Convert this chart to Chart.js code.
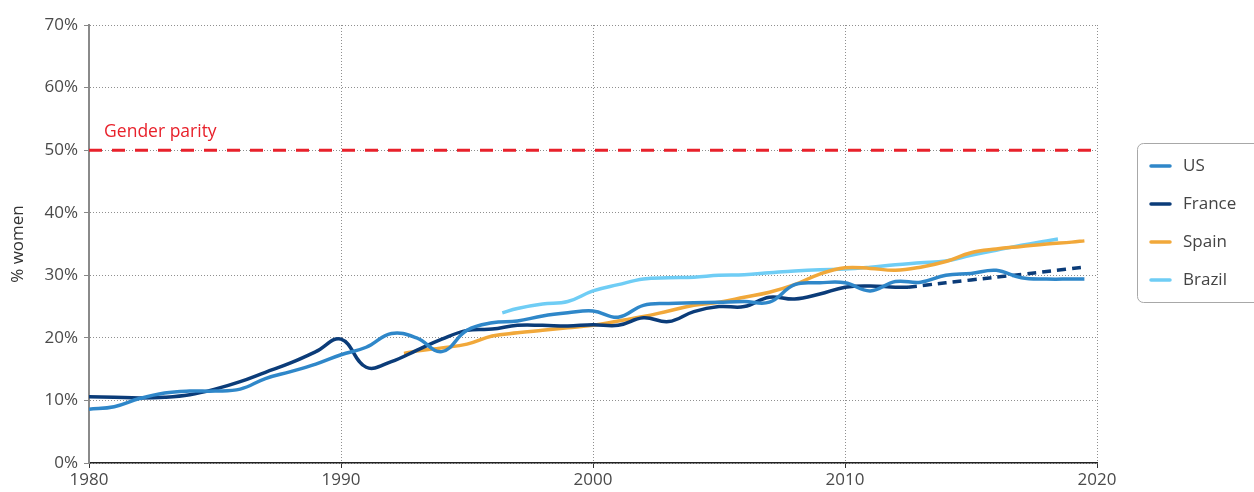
<!DOCTYPE html>
<html>
<head>
<meta charset="utf-8">
<script src="https://cdn.jsdelivr.net/npm/chart.js@4/dist/chart.umd.min.js"></script>
<style>
  html, body { margin: 0; padding: 0; background: #fff; }
  #wrap { width: 1254px; height: 492px; }
</style>
</head>
<body>
<div id="wrap"><canvas id="womenChart" width="1254" height="492"></canvas></div>
<script>
// Data (share of women, %)
const usYears = [1980, 1981, 1982, 1983, 1984, 1985, 1986, 1987, 1988, 1989, 1990, 1991, 1992, 1993, 1994, 1995, 1996, 1997, 1998, 1999, 2000, 2001, 2002, 2003, 2004, 2005, 2006, 2007, 2008, 2009, 2010, 2011, 2012, 2013, 2014, 2015, 2016, 2017, 2018, 2019, 2019.5];
const usValues = [8.6, 9.0, 10.3, 11.2, 11.5, 11.5, 11.8, 13.5, 14.6, 15.8, 17.3, 18.5, 20.7, 20.0, 17.8, 21.2, 22.4, 22.7, 23.5, 24.0, 24.3, 23.3, 25.2, 25.5, 25.6, 25.7, 25.8, 25.7, 28.5, 28.8, 28.8, 27.5, 29.0, 28.9, 30.0, 30.3, 30.8, 29.6, 29.4, 29.4, 29.4];

const franceYears = [1980, 1981, 1982, 1983, 1984, 1985, 1986, 1987, 1988, 1989, 1990, 1991, 1992, 1993, 1994, 1995, 1996, 1997, 1998, 1999, 2000, 2001, 2002, 2003, 2004, 2005, 2006, 2007, 2008, 2009, 2010, 2011, 2012, 2012.5];
const franceValues = [10.6, 10.5, 10.4, 10.5, 10.9, 11.8, 13.0, 14.5, 16.0, 17.8, 19.8, 15.3, 16.2, 18.0, 19.8, 21.2, 21.4, 22.0, 22.0, 21.9, 22.1, 22.0, 23.2, 22.6, 24.2, 25.0, 25.0, 26.5, 26.2, 27.0, 28.1, 28.3, 28.1, 28.1];

const franceProjYears = [2012.5, 2014, 2016, 2018, 2019.5];
const franceProjValues = [28.1, 28.8, 29.7, 30.6, 31.3];

const spainYears = [1992.5, 1993, 1994, 1995, 1996, 1997, 1998, 1999, 2000, 2001, 2002, 2003, 2004, 2005, 2006, 2007, 2008, 2009, 2010, 2011, 2012, 2013, 2014, 2015, 2016, 2017, 2018, 2019, 2019.5];
const spainValues = [17.5, 17.9, 18.4, 19.0, 20.3, 20.8, 21.2, 21.6, 22.0, 22.7, 23.4, 24.3, 25.2, 25.7, 26.5, 27.3, 28.5, 30.2, 31.2, 31.1, 30.8, 31.3, 32.2, 33.6, 34.2, 34.6, 35.0, 35.3, 35.5];

const brazilYears = [1996.4, 1997, 1998, 1999, 2000, 2001, 2002, 2003, 2004, 2005, 2006, 2007, 2008, 2009, 2010, 2011, 2012, 2013, 2014, 2015, 2016, 2017, 2018, 2018.45];
const brazilValues = [24.0, 24.7, 25.4, 25.8, 27.5, 28.5, 29.4, 29.6, 29.7, 30.0, 30.1, 30.4, 30.7, 30.9, 31.0, 31.3, 31.7, 32.0, 32.3, 33.2, 34.0, 34.8, 35.5, 35.8];

const parityYears = [1980, 2020];
const parityValues = [50, 50];

const seriesColors = {
    us: '#2f87c9',
    france: '#0b3c79',
    spain: '#f1a83a',
    brazil: '#6fcdf5',
    parity: '#e8212b'
};

const FONT = '"Open Sans", "DejaVu Sans", sans-serif';

// Function to zip years and values into points
function toPoints(years, values) {
    return years.map((yr, i) => ({ x: yr, y: values[i] }));
}

// Labels and legend box drawn on top of the chart
const extrasPlugin = {
    id: 'extras',
    afterDatasetsDraw(chart) {
        const ctx = chart.ctx;
        const xs = chart.scales.x;
        const ys = chart.scales.y;

        // Gender parity label
        ctx.save();
        ctx.font = '500 17.5px ' + FONT;
        ctx.fillStyle = seriesColors.parity;
        ctx.textBaseline = 'middle';
        ctx.fillText('Gender parity', xs.getPixelForValue(1980.6), ys.getPixelForValue(52.9));
        ctx.restore();

        // Legend
        const items = chart.data.datasets.filter(d => !d.hideInLegend);
        const left = 1137, top = 143, width = 140, height = 159;
        ctx.save();
        ctx.strokeStyle = '#a8a8a8';
        ctx.lineWidth = 1;
        ctx.beginPath();
        ctx.roundRect(left + 0.5, top + 0.5, width, height, 6);
        ctx.stroke();
        ctx.font = '17px ' + FONT;
        ctx.textBaseline = 'middle';
        items.forEach((d, i) => {
            const cy = top + 23 + i * 38;
            ctx.strokeStyle = d.borderColor;
            ctx.lineWidth = 3.5;
            ctx.lineCap = 'round';
            ctx.beginPath();
            ctx.moveTo(1151, cy);
            ctx.lineTo(1170, cy);
            ctx.stroke();
            ctx.fillStyle = '#444';
            ctx.fillText(d.label, 1183, cy);
        });
        ctx.restore();
    }
};

function lineSet(label, color, years, values, extra) {
    return Object.assign({
        label: label,
        data: toPoints(years, values),
        borderColor: color,
        backgroundColor: color,
        borderWidth: 3.5,
        pointRadius: 0,
        tension: 0.4,
        fill: false
    }, extra || {});
}

document.addEventListener('DOMContentLoaded', () => {
    const ctx = document.getElementById('womenChart').getContext('2d');

    new Chart(ctx, {
        type: 'line',
        data: {
            datasets: [
                lineSet('US', seriesColors.us, usYears, usValues),
                lineSet('France', seriesColors.france, franceYears, franceValues),
                lineSet('Spain', seriesColors.spain, spainYears, spainValues),
                lineSet('Brazil', seriesColors.brazil, brazilYears, brazilValues),
                lineSet('France (trend)', seriesColors.france, franceProjYears, franceProjValues, {
                    borderDash: [9, 6], tension: 0.2, hideInLegend: true
                }),
                lineSet('Gender parity', seriesColors.parity, parityYears, parityValues, {
                    borderDash: [13, 10], borderWidth: 3, tension: 0, hideInLegend: true
                })
            ]
        },
        options: {
            responsive: false,
            animation: false,
            layout: { padding: { top: 25, right: 157, left: 0, bottom: 0 } },
            plugins: {
                legend: { display: false },
                tooltip: { enabled: false }
            },
            scales: {
                x: {
                    type: 'linear',
                    min: 1980,
                    max: 2020,
                    afterFit: scale => { scale.height = 29; },
                    ticks: {
                        stepSize: 10,
                        color: '#4a4a4a',
                        font: { family: FONT, size: 17 },
                        padding: 2,
                        maxRotation: 0,
                        callback: v => String(v)
                    },
                    grid: {
                        color: '#8f8f8f',
                        lineWidth: 1,
                        tickLength: 5,
                        tickColor: '#333',
                        tickBorderDash: []
                    },
                    border: { color: '#222', width: 1.5, dash: [1, 2] }
                },
                y: {
                    min: 0,
                    max: 70,
                    afterFit: scale => { scale.width = 89; },
                    ticks: {
                        stepSize: 10,
                        color: '#4a4a4a',
                        font: { family: FONT, size: 17 },
                        padding: 6,
                        callback: v => v + '%'
                    },
                    title: {
                        display: true,
                        text: '% women',
                        color: '#333',
                        font: { family: FONT, size: 17 },
                        padding: { top: 8, bottom: 4 }
                    },
                    grid: {
                        color: '#8f8f8f',
                        lineWidth: 1,
                        tickLength: 5,
                        tickColor: '#888',
                        tickBorderDash: []
                    },
                    border: { color: '#8a8a8a', width: 2, dash: [1, 2] }
                }
            }
        },
        plugins: [extrasPlugin]
    });
});
</script>
</body>
</html>
